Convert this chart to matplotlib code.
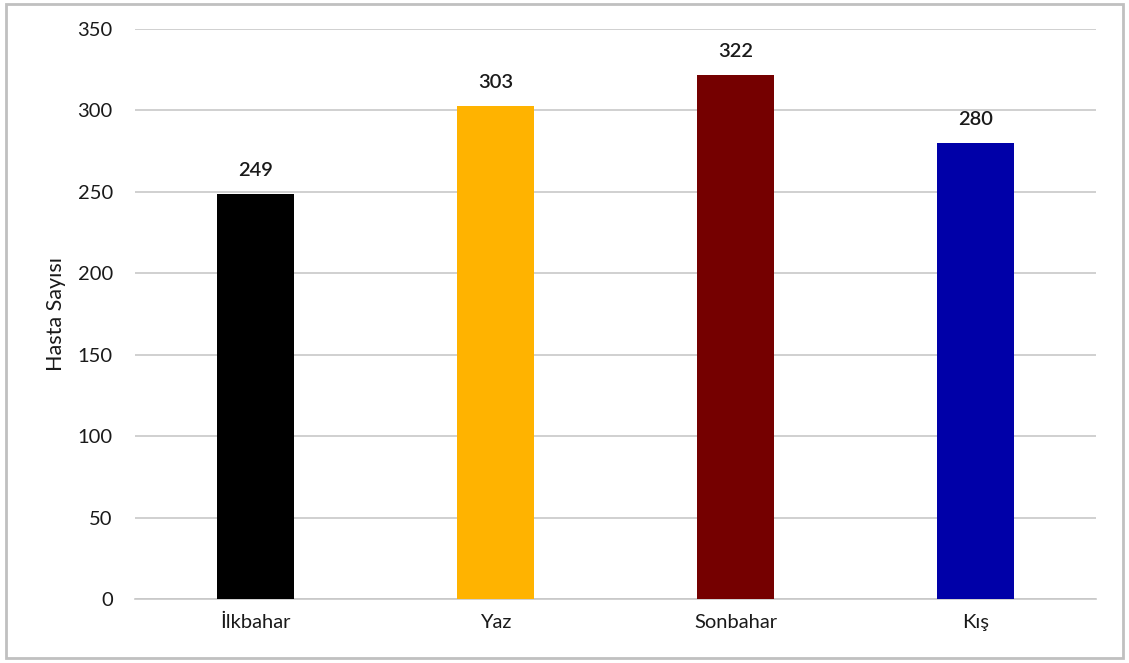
import matplotlib
matplotlib.use("Agg")
import matplotlib.pyplot as plt
from matplotlib.patches import Rectangle

seasons = ["İlkbahar", "Yaz", "Sonbahar", "Kış"]
patients = [249, 303, 322, 280]
bar_colors = ["#000000", "#FFB300", "#750000", "#0000A8"]
y_ticks = [0, 50, 100, 150, 200, 250, 300, 350]

plt.rcParams["font.family"] = ["Lato", "DejaVu Sans"]

fig = plt.figure(figsize=(11.29, 6.63), dpi=100)
ax = fig.add_axes([0.1196, 0.0965, 0.8512, 0.8597])

x = range(len(seasons))
bars = ax.bar(x, patients, width=0.32, color=bar_colors, zorder=3)

for b, v in zip(bars, patients):
    ax.text(b.get_x() + b.get_width() / 2, v + 9, str(v),
            ha="center", va="bottom", fontsize=14.5, color="#1a1a1a",
            fontweight="semibold")

ax.set_xlim(-0.5, len(seasons) - 0.5)
ax.set_ylim(0, 350)
ax.set_yticks(y_ticks)
ax.set_xticks(list(x))
ax.set_xticklabels(seasons)
ax.tick_params(axis="both", length=0, labelsize=14.5, colors="#1a1a1a")
ax.tick_params(axis="y", pad=16)
ax.tick_params(axis="x", pad=11)

ax.grid(axis="y", color="#c8c8c8", linewidth=1.2, zorder=0)
for s in ["top", "right", "left"]:
    ax.spines[s].set_visible(False)
ax.spines["bottom"].set_color("#c8c8c8")
ax.spines["bottom"].set_linewidth(1.2)

ax.set_ylabel("Hasta Sayısı", fontsize=15.5, labelpad=8, color="#1a1a1a")

# light outer frame around the chart area
fig.patches.append(Rectangle((0.005, 0.008), 0.99, 0.986, transform=fig.transFigure,
                             fill=False, edgecolor="#c0c0c0", linewidth=2))

fig.savefig("out.png", dpi=100, facecolor="white")
